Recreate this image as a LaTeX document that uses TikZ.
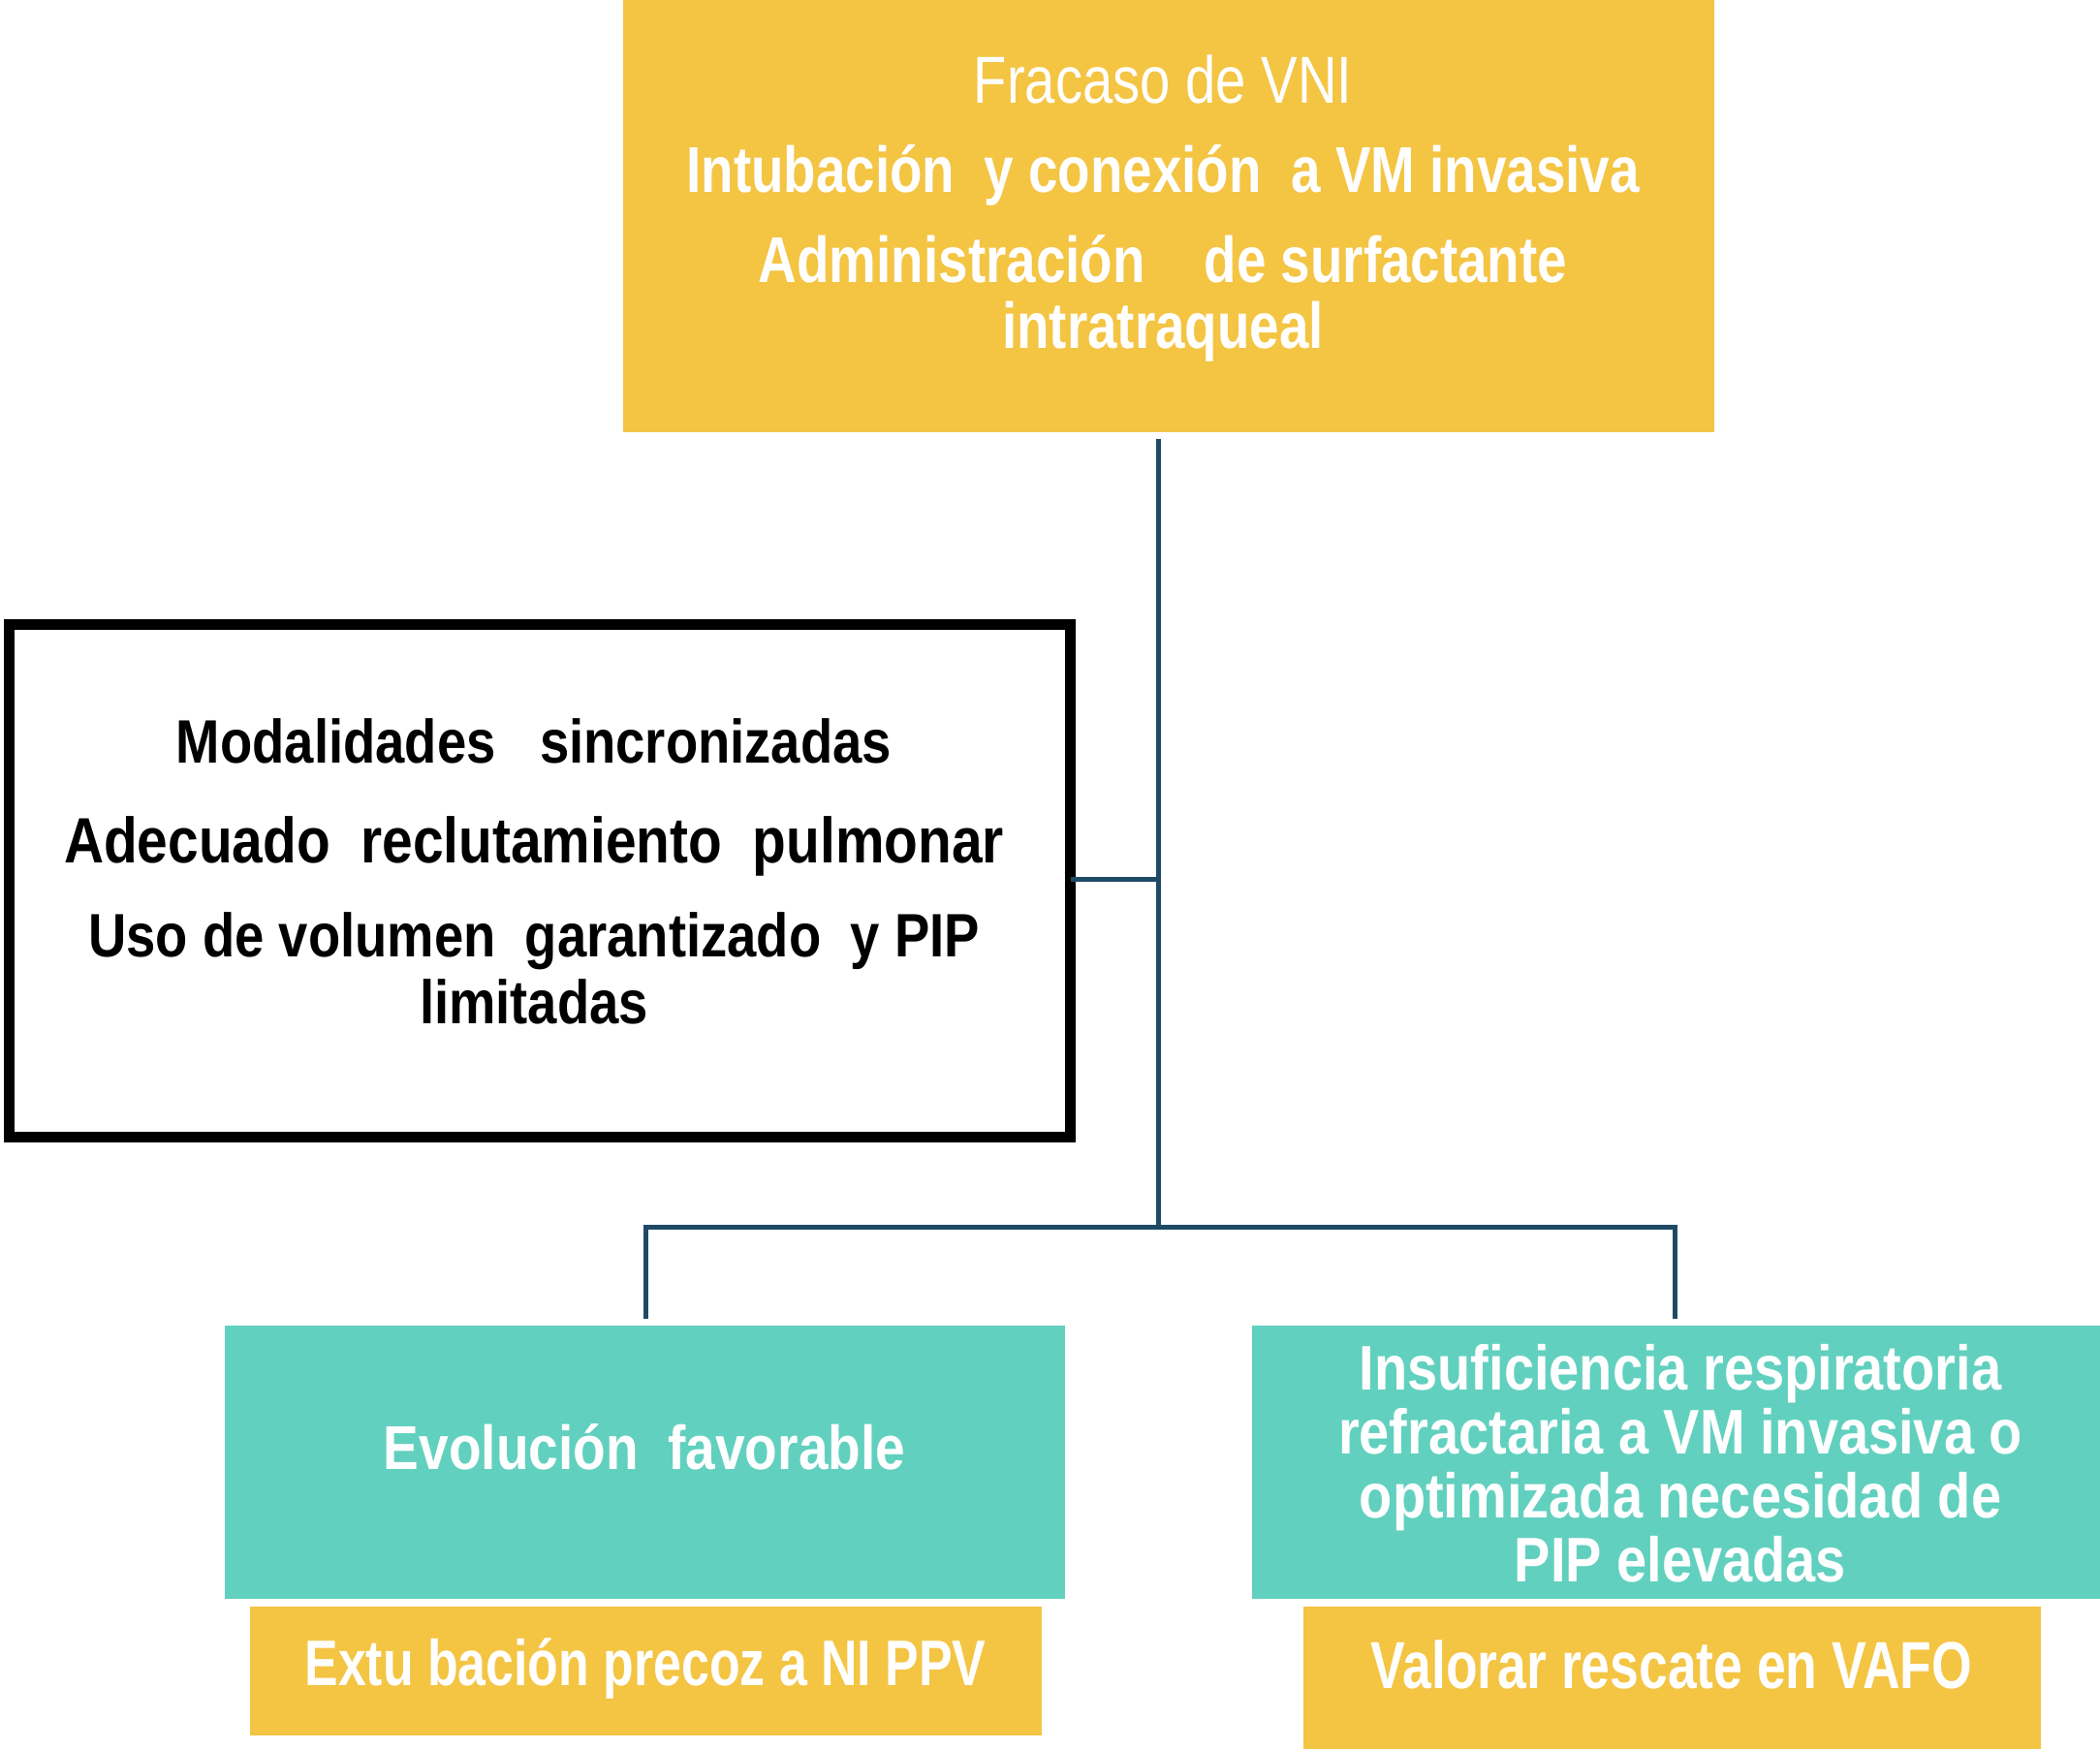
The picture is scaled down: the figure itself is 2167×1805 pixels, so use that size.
\documentclass[tikz,border=0pt]{standalone}
\usepackage{fontspec}
\setmainfont{Liberation Sans}
\newfontfamily\condf[FakeStretch=0.78]{Liberation Sans}
\newfontfamily\topf[FakeStretch=0.82]{Liberation Sans}
\newfontfamily\narrowf[FakeStretch=0.86]{Liberation Sans}
\definecolor{myyellow}{HTML}{F4C443}
\definecolor{myteal}{HTML}{62D0BF}
\definecolor{myline}{HTML}{1F4A66}
\tikzset{
  yellowbox/.style={fill=myyellow, draw=none, inner sep=0pt, outer sep=0pt},
  tealbox/.style={fill=myteal, draw=none, inner sep=0pt, outer sep=0pt},
  framebox/.style={draw=black, line width=0.11cm, fill=white, inner sep=0pt, outer sep=0pt},
  conn/.style={draw=myline, line width=0.05cm},
  wtext/.style={text=white, align=center, inner sep=0pt, font=\condf\bfseries},
  btext/.style={text=black, align=center, inner sep=0pt, font=\condf\bfseries},
}
\begin{document}
\begin{tikzpicture}[x=0.01cm, y=-0.01cm]
\path[fill=white] (0,0) rectangle (2167,1805);
\useasboundingbox (0,0) rectangle (2167,1805);

% boxes
\node[yellowbox, minimum width=11.26cm, minimum height=4.46cm] (top) at (1206,223) {};
\node[framebox, minimum width=10.95cm, minimum height=5.28cm] (mid) at (557,909) {};
\node[tealbox, minimum width=8.67cm, minimum height=2.82cm] (left) at (665.5,1509) {};
\node[tealbox, minimum width=8.75cm, minimum height=2.82cm] (right) at (1729.5,1509) {};
\node[yellowbox, minimum width=8.17cm, minimum height=1.33cm] (lefty) at (666.5,1724.5) {};
\node[yellowbox, minimum width=7.61cm, minimum height=1.47cm] (righty) at (1725.5,1731.5) {};

% texts
\node[wtext, font=\fontsize{19}{19.5}\selectfont\topf] (toptext) at (1200,215)
  {{\fontsize{19.5}{19.5}\selectfont Fracaso de VNI}\\[6.8pt]
   {\bfseries Intubación\ \ y conexión\ \ a VM invasiva}\\[6.8pt]
   {\bfseries Administración\ \ \ \ de surfactante}\\
   {\bfseries intratraqueal}};
\node[btext, font=\fontsize{18}{19.5}\selectfont\narrowf\bfseries] (midtext) at (551,899)
  {Modalidades\ \ \ sincronizadas\\[10pt]
   {\fontsize{18.8}{19.5}\selectfont Adecuado\ \ reclutamiento\ \ pulmonar}\\[8pt]
   Uso de volumen\ \ garantizado\ \ y PIP\\
   limitadas};
\node[wtext, font=\fontsize{18.2}{19}\selectfont\narrowf\bfseries] (lefttext) at (665,1493)
  {Evolución\ \ favorable};
\node[wtext, font=\fontsize{18.5}{18.8}\selectfont\narrowf\bfseries] (righttext) at (1734,1510)
  {Insuficiencia respiratoria\\
   refractaria a VM invasiva o\\
   optimizada necesidad de\\
   PIP elevadas};
\node[wtext, font=\fontsize{18.9}{19}\selectfont\condf\bfseries] (leftytext) at (666,1722)
  {Extu bación precoz a NI PPV};
\node[wtext, font=\fontsize{19.5}{19.5}\selectfont\condf\bfseries] (rightytext) at (1725,1718)
  {Valorar rescate en VAFO};

% connectors
\coordinate (jtop) at (1195,453);
\coordinate (jmid) at (1195,907);
\coordinate (jbot) at (1195,1266);
\coordinate (jl) at (666,1361);
\coordinate (jr) at (1728,1361);
\draw[conn] (jtop) -- (jbot);
\draw[conn] (mid.east |- jmid) -- (jmid);
\draw[conn] (jl) |- (jbot) -| (jr);
\end{tikzpicture}
\end{document}
